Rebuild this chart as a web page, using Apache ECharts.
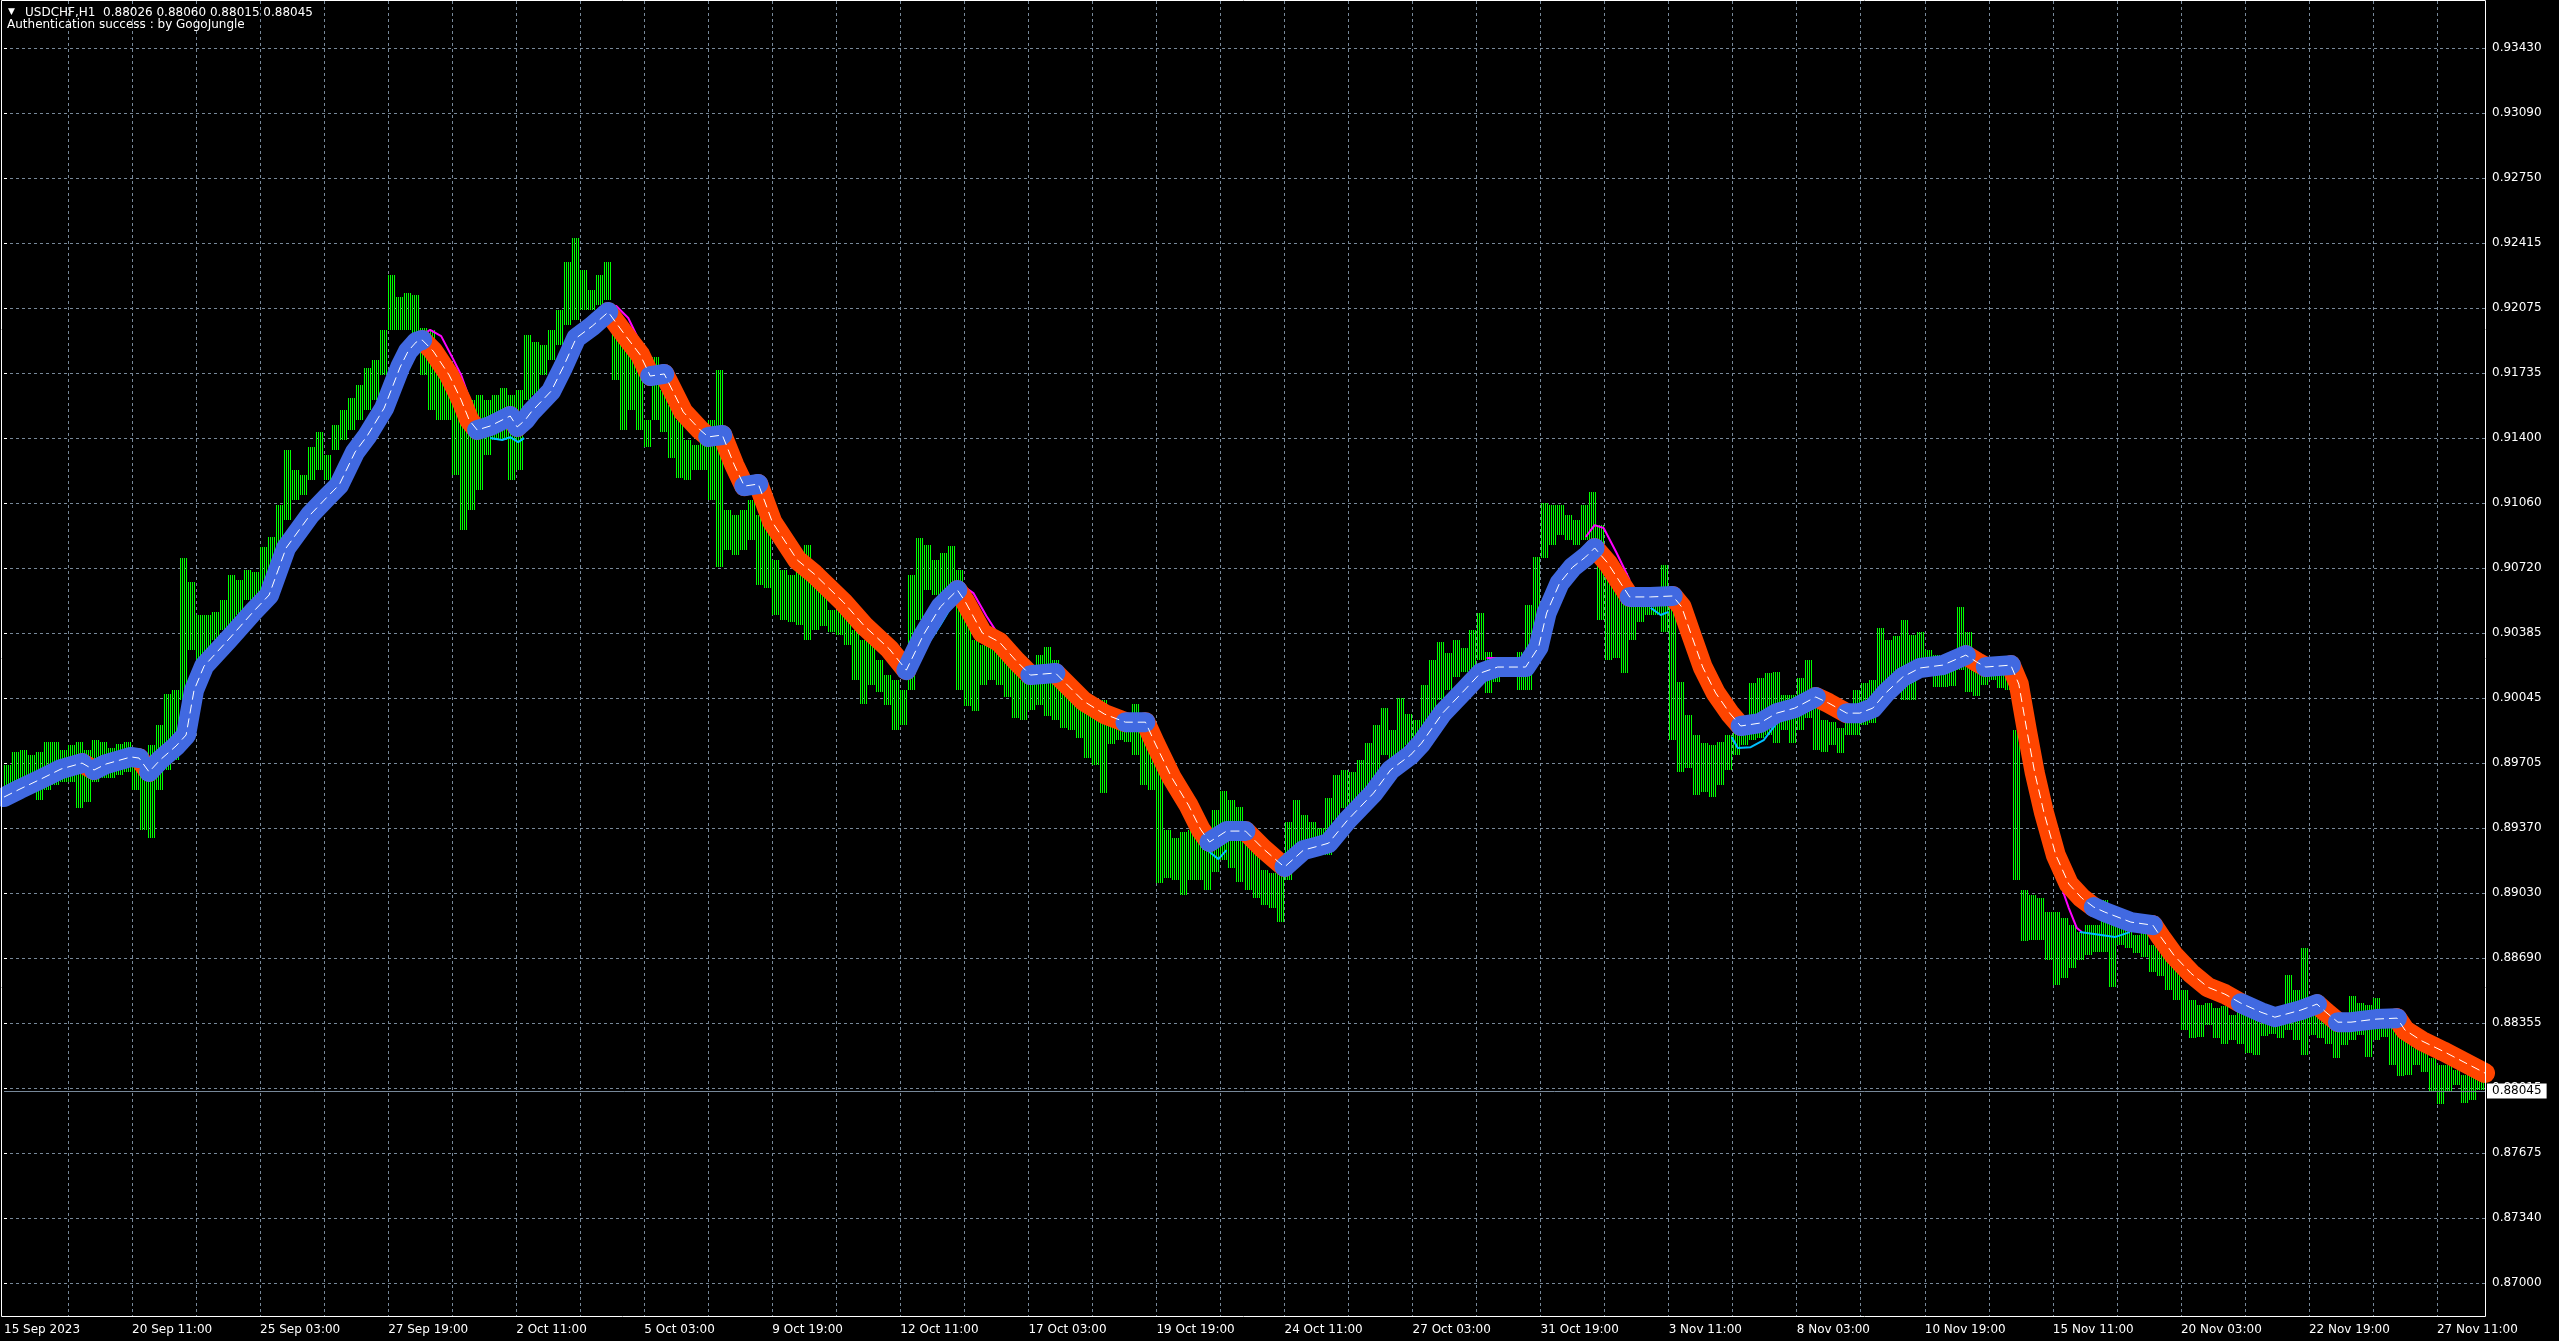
<!DOCTYPE html>
<html><head><meta charset="utf-8">
<script src="https://cdn.jsdelivr.net/npm/echarts@6/dist/echarts.min.js"></script>
<style>html,body{margin:0;padding:0;background:#000;overflow:hidden}#c{width:2559px;height:1341px}</style>
</head><body><div id="c"></div>
<script>
// ---------------- data ----------------
const headerLine1 = 'USDCHF,H1  0.88026 0.88060 0.88015 0.88045';
const headerLine2 = 'Authentication success : by GogoJungle';
const bidPrice = 0.88045;

// price-axis tick labels, bottom to top
const yTickLabels = ['0.87000','0.87340','0.87675','0.88015','0.88355','0.88690','0.89030','0.89370','0.89705','0.90045',
  '0.90385','0.90720','0.91060','0.91400','0.91735','0.92075','0.92415','0.92750','0.93090','0.93430'];
// time-axis labels, one every 64 hourly bars
const xTickLabels = ['15 Sep 2023','20 Sep 11:00','25 Sep 03:00','27 Sep 19:00','2 Oct 11:00','5 Oct 03:00','9 Oct 19:00',
  '12 Oct 11:00','17 Oct 03:00','19 Oct 19:00','24 Oct 11:00','27 Oct 03:00','31 Oct 19:00','3 Nov 11:00','8 Nov 03:00',
  '10 Nov 19:00','15 Nov 11:00','20 Nov 03:00','22 Nov 19:00','27 Nov 11:00'];

// H1 price range, one high/low per block of 4 hourly bars
const priceHigh = [
.89697,.89765,.89775,.89749,.89765,.89817,.89817,.89775,.89801,.89817,
.89775,.89827,.89817,.89785,.89806,.89817,.89765,.89723,.89801,.89905,
.90066,.90087,.90774,.90650,.90478,.90478,.90494,.90556,.90686,.90660,
.90712,.90702,.90832,.90884,.91051,.91337,.91233,.91207,.91353,.91431,
.91311,.91467,.91545,.91607,.91675,.91764,.91805,.91962,.92248,.92134,
.92154,.92144,.91972,.91962,.91779,.91727,.91623,.91545,.91597,.91623,
.91597,.91623,.91660,.91623,.91649,.91936,.91900,.91884,.91962,.92066,
.92316,.92440,.92274,.92170,.92248,.92316,.91962,.91910,.91884,.91832,
.91493,.91821,.91649,.91571,.91493,.91389,.91363,.91441,.91493,.91753,
.91024,.90998,.91024,.91077,.90998,.90946,.90764,.90712,.90686,.90785,
.90842,.90686,.90608,.90504,.90504,.90494,.90400,.90348,.90337,.90243,
.90165,.90139,.90087,.90686,.90878,.90842,.90764,.90800,.90837,.90712,
.90478,.90348,.90322,.90348,.90295,.90295,.90191,.90139,.90191,.90269,
.90311,.90243,.90113,.90087,.90061,.90009,.89983,.90035,.89957,.89957,
.89957,.90014,.89941,.89879,.89697,.89358,.89316,.89348,.89358,.89384,
.89332,.89462,.89561,.89514,.89478,.89306,.89280,.89150,.89134,.89150,
.89400,.89514,.89436,.89400,.89368,.89524,.89645,.89671,.89661,.89723,
.89811,.89905,.89993,.89879,.90045,.89962,.89931,.90113,.90243,.90337,
.90280,.90348,.90306,.90400,.90488,.90285,.90259,.90254,.90254,.90285,
.90530,.90780,.91061,.91051,.91051,.90998,.90972,.91051,.91119,.90946,
.90676,.90608,.90696,.90608,.90608,.90592,.90592,.90738,.90530,.90129,
.89957,.89853,.89811,.89801,.89817,.89853,.89879,.89921,.90124,.90150,
.90176,.90181,.90061,.90061,.90150,.90243,.90087,.89931,.89921,.89889,
.89931,.90087,.90124,.90139,.90410,.90348,.90369,.90452,.90374,.90390,
.90295,.90269,.90233,.90233,.90520,.90390,.90254,.90243,.90254,.90243,
.90233,.89879,.89046,.89020,.89004,.88931,.88931,.88900,.88863,.88827,
.88863,.88863,.88994,.88916,.88916,.88863,.88811,.88863,.88759,.88759,
.88691,.88650,.88525,.88473,.88447,.88457,.88431,.88442,.88395,.88421,
.88421,.88379,.88359,.88343,.88431,.88603,.88525,.88744,.88473,.88395,
.88379,.88359,.88343,.88494,.88457,.88447,.88483,.88421,.88343,.88291,
.88265,.88223,.88213,.88171,.88135,.88135,.88108,.88082,.88082,.88082];
const priceLow = [
.89514,.89540,.89566,.89556,.89514,.89566,.89593,.89608,.89608,.89472,
.89504,.89608,.89629,.89629,.89645,.89661,.89566,.89358,.89316,.89566,
.89671,.89723,.90035,.90295,.90243,.90269,.90348,.90400,.90426,.90478,
.90556,.90556,.90608,.90686,.90764,.90972,.91077,.91103,.91181,.91233,
.91181,.91337,.91389,.91441,.91493,.91545,.91597,.91727,.91962,.91962,
.91962,.91936,.91727,.91545,.91493,.91493,.91207,.90920,.91024,.91129,
.91311,.91389,.91389,.91181,.91233,.91597,.91623,.91727,.91805,.91884,
.91988,.92014,.92066,.92066,.92092,.92118,.91701,.91441,.91545,.91441,
.91353,.91493,.91431,.91295,.91191,.91181,.91233,.91233,.91077,.90728,
.90816,.90790,.90816,.90868,.90634,.90618,.90478,.90452,.90442,.90426,
.90348,.90400,.90421,.90390,.90374,.90322,.90139,.90014,.90113,.90077,
.90009,.89879,.89905,.90087,.90452,.90608,.90582,.90556,.90556,.90087,
.90004,.89978,.90113,.90139,.90113,.90051,.89941,.89931,.89983,.90009,
.89952,.89931,.89889,.89879,.89837,.89733,.89697,.89550,.89806,.89827,
.89817,.89749,.89593,.89566,.89082,.89108,.89098,.89020,.89098,.89098,
.89046,.89140,.89202,.89160,.89088,.89046,.89004,.88968,.88952,.88879,
.89098,.89228,.89280,.89238,.89244,.89228,.89410,.89472,.89462,.89472,
.89566,.89619,.89749,.89723,.89749,.89801,.89817,.89843,.89931,.90035,
.90087,.90155,.90181,.90191,.90243,.90071,.90129,.90160,.90160,.90087,
.90087,.90348,.90774,.90842,.90894,.90868,.90842,.90868,.90842,.90452,
.90243,.90254,.90176,.90348,.90442,.90478,.90478,.90390,.89827,.89661,
.89681,.89540,.89556,.89530,.89593,.89671,.89749,.89801,.89827,.89837,
.89853,.89811,.89879,.89811,.89879,.89941,.89775,.89765,.89801,.89759,
.89853,.89853,.89905,.89915,.90035,.90139,.90181,.90035,.90035,.90181,
.90202,.90103,.90103,.90108,.90191,.90077,.90056,.90113,.90139,.90097,
.90087,.89098,.88780,.88785,.88785,.88681,.88551,.88587,.88639,.88681,
.88707,.88723,.88723,.88540,.88759,.88743,.88717,.88697,.88618,.88598,
.88525,.88473,.88317,.88275,.88280,.88343,.88275,.88244,.88265,.88244,
.88197,.88187,.88286,.88296,.88275,.88317,.88265,.88187,.88291,.88275,
.88244,.88171,.88239,.88265,.88291,.88176,.88265,.88280,.88135,.88077,
.88082,.88135,.88098,.87994,.87931,.87994,.88030,.87936,.87952,.88004];

// thick moving average: hourly-bar index, value, trend of the segment ending here (1 = up/blue, 0 = down/red)
const maBar = [0,8,18.5,28.5,39,45,51,63.5,67.5,72.5,78,86,91,95,100,112,124.5,132.5,137,141,
153,161.5,167.5,175.5,181.5,190,198,202,206,209,214.5,222.5,228.5,232.5,236.5,243,253,256.5,260.5,263.5,
273.5,279.5,286,294,302,310,318,323,330,339.5,348,352,359,365,370,377,384,396.5,405,419.5,
430,442.5,451,459.5,468,476.5,480.5,489,497.5,506,513,525.5,539.5,550,560.5,570.5,575.5,583.5,592,598,
602.5,611,620.5,629,637,640,649.5,657,662,671.5,684.5,693,703,708.5,719,730,738,746.5,760.5,767,
771,777.5,784,790.5,795,801.5,808,812.5,823,834,838.5,843,849,855.5,862.5,868,877.5,886,895,905.5,
912,921,927.5,934,940.5,949,957.5,969,980.5,986,990.5,1003,1007,1011,1015,1019.5,1025.5,1032,1038.5,1044.5,
1050,1063,1074,1078,1084.5,1093,1101.5,1110,1118,1128,1135,1148,1156,1160.5,1166.5,1173,1185.5,1196,1200,1208.5,
1219,1229.5,1240];
const maPrice = [.89530,.89572,.89624,.89676,.89707,.89671,.89702,.89739,.89733,.89661,.89723,.89796,.89853,.90087,.90212,.90348,.90494,.90582,.90712,.90827,
.90999,.91092,.91155,.91327,.91410,.91555,.91769,.91852,.91899,.91910,.91852,.91727,.91597,.91493,.91441,.91462,.91514,.91457,.91493,.91535,
.91644,.91769,.91920,.91982,.92055,.91941,.91832,.91722,.91733,.91535,.91441,.91405,.91415,.91259,.91149,.91160,.90962,.90764,.90691,.90545,
.90421,.90301,.90191,.90374,.90520,.90608,.90546,.90384,.90337,.90238,.90165,.90176,.90030,.89962,.89920,.89920,.89806,.89634,.89488,.89363,
.89296,.89353,.89353,.89264,.89192,.89166,.89254,.89275,.89290,.89410,.89551,.89671,.89749,.89811,.89967,.90087,.90176,.90207,.90207,.90311,
.90488,.90644,.90727,.90780,.90827,.90749,.90644,.90572,.90572,.90577,.90520,.90384,.90207,.90072,.89967,.89900,.89915,.89967,.89993,.90051,
.90019,.89967,.89967,.89993,.90072,.90155,.90202,.90217,.90269,.90233,.90207,.90217,.90118,.89879,.89655,.89452,.89228,.89077,.89004,.88957,
.88931,.88879,.88863,.88801,.88707,.88613,.88540,.88504,.88457,.88410,.88384,.88421,.88452,.88410,.88358,.88358,.88374,.88379,.88317,.88260,
.88207,.88150,.88093];
const maTrend = [1,1,1,1,1,0,1,1,1,0,1,1,1,1,1,1,1,1,1,1,
1,1,1,1,1,1,1,1,1,1,0,0,0,0,0,1,1,0,1,1,
1,1,1,1,1,0,0,0,1,0,0,0,1,0,0,1,0,0,0,0,
0,0,0,1,1,1,0,0,0,0,0,1,0,0,0,1,0,0,0,0,
0,1,1,0,0,0,1,1,1,1,1,1,1,1,1,1,1,1,1,1,
1,1,1,1,1,0,0,0,1,1,0,0,0,0,0,0,1,1,1,1,
0,0,1,1,1,1,1,1,1,0,0,1,0,0,0,0,0,0,0,0,
1,1,1,0,0,0,0,0,0,1,1,1,1,0,0,1,1,1,0,0,
0,0,0];

// thin companion lines, visible only near turning points: [hourly-bar index, value]
const magentaSegments = [
  [[208,.91930],[213,.91962],[218.5,.91930],[224.5,.91810],[228.5,.91727],[232.5,.91608]],
  [[301,.92092],[306,.92087],[312,.92024],[318.5,.91884]],
  [[479.5,.90629],[484.5,.90592],[491,.90473],[495.5,.90400]],
  [[741,.90254],[758,.90254]],
  [[790.5,.90884],[795,.90946],[799.5,.90931],[806,.90801],[812.5,.90660]],
  [[1029,.89041],[1032,.88952],[1036,.88848],[1038.5,.88827]]];
const cyanSegments = [
  [[243,.91399],[249,.91389],[253,.91404],[257,.91378],[260,.91399]],
  [[461.5,.90322],[468,.90426],[475.5,.90556]],
  [[602.5,.89244],[607,.89207],[611,.89254]],
  [[823,.90515],[828,.90478],[832,.90494]],
  [[863.5,.89843],[866.5,.89785],[873,.89790],[879.5,.89827],[886,.89915]],
  [[1037.5,.88827],[1049,.88811],[1055,.88801],[1062.5,.88827]]];

// ---------------- layout ----------------
const W = 2559, H = 1341;
const plotLeft = 4, plotRight = 2485, plotTop = 1, plotBottom = 1316;
const firstTickY = 48, lastTickY = 1283;       // pixel rows of top / bottom price labels
const font = 'DejaVu Sans';
const gridColor = '#778899';
const barsPerBlock = 4, nBlocks = 311;          // category slots (last one is the right edge)

const topLabel = parseFloat(yTickLabels[yTickLabels.length - 1]);
const botLabel = parseFloat(yTickLabels[0]);
const slope = (topLabel - botLabel) / (lastTickY - firstTickY);
const priceMax = topLabel + (firstTickY - plotTop) * slope;
const priceMin = botLabel - (plotBottom - lastTickY) * slope;

// hourly bar times (weekends skipped), used as category names of the 4-bar blocks
const MON = ['Jan','Feb','Mar','Apr','May','Jun','Jul','Aug','Sep','Oct','Nov','Dec'];
const categories = [];
(function () {
  let t = Date.UTC(2023, 8, 15, 19);
  for (let i = 0; i < nBlocks * barsPerBlock; i++) {
    if (i % barsPerBlock === 0) {
      const d = new Date(t);
      categories.push(d.getUTCDate() + ' ' + MON[d.getUTCMonth()] + ' ' + String(d.getUTCHours()).padStart(2, '0') + ':00');
    }
    t += 3600e3;
    if (new Date(t).getUTCDay() === 6) t += 2 * 86400e3;
  }
})();

const barData = priceLow.map((lo, i) => [i, lo, priceHigh[i]]);

function segData(segs) {
  const out = [];
  segs.forEach((s, i) => { if (i) out.push([s[0][0], '-']); s.forEach(p => out.push(p)); });
  return out;
}
function trendData(flag) {
  const out = []; let open = false;
  for (let i = 1; i < maBar.length; i++) {
    if (maTrend[i] === flag) {
      if (!open) { if (out.length) out.push([maBar[i - 1], '-']); out.push([maBar[i - 1], maPrice[i - 1]]); open = true; }
      out.push([maBar[i], maPrice[i]]);
    } else open = false;
  }
  return out;
}
const maAll = maBar.map((b, i) => [b, maPrice[i]]);

function renderBars(params, api) {
  const g = api.value(0), lo = api.value(1), hi = api.value(2);
  const top = api.coord([g, hi]), bot = api.coord([g, lo]);
  const nxt = api.coord([g + 1, hi]);
  const step = (nxt[0] - top[0]) / barsPerBlock;
  const y0 = Math.round(top[1]), h = Math.max(1, Math.round(bot[1]) - y0);
  const children = [];
  for (let k = 0; k < barsPerBlock; k++) {
    children.push({ type: 'rect', shape: { x: Math.round(top[0] + k * step), y: y0, width: 1, height: h },
      style: { fill: '#00ff00' } });
  }
  return { type: 'group', children };
}

const chart = echarts.init(document.getElementById('c'), null, { renderer: 'canvas', width: W, height: H });
const dashed = { color: gridColor, type: [3, 3], width: 1 };
const maWidth = 20;

chart.setOption({
  backgroundColor: '#000000',
  animation: false,
  grid: [
    { left: plotLeft, right: W - plotRight, top: plotTop, bottom: H - plotBottom, outerBoundsMode: 'none', containLabel: false },
    { left: plotLeft, right: W - plotRight, top: firstTickY, bottom: H - lastTickY, outerBoundsMode: 'none', containLabel: false }
  ],
  xAxis: [
    { type: 'category', gridIndex: 0, data: categories, boundaryGap: false,
      axisLine: { show: false }, axisTick: { show: false },
      axisLabel: { show: true, interval: (i) => i % 16 === 0, formatter: (v, i) => xTickLabels[i / 16] || '',
        align: 'left', margin: 8, color: '#ffffff', fontFamily: font, fontSize: 12, hideOverlap: false },
      splitLine: { show: true, interval: (i) => i > 0 && i % 8 === 0, lineStyle: dashed } },
    { type: 'value', gridIndex: 0, min: 0, max: (nBlocks - 1) * barsPerBlock, show: false },
    { type: 'value', gridIndex: 1, min: 0, max: 1, show: false }
  ],
  yAxis: [
    { type: 'value', gridIndex: 0, min: priceMin, max: priceMax, show: false, scale: true },
    { type: 'value', gridIndex: 1, position: 'right', min: 0, max: yTickLabels.length - 1, interval: 1,
      axisLine: { show: false },
      axisTick: { show: true, length: 3, lineStyle: { color: '#ffffff' } },
      axisLabel: { show: true, margin: 7, color: '#ffffff', fontFamily: font, fontSize: 12,
        formatter: (v) => yTickLabels[Math.round(v)], showMinLabel: true, showMaxLabel: true },
      splitLine: { show: true, lineStyle: dashed } }
  ],
  graphic: [
    { type: 'rect', silent: true, z: 100, shape: { x: 1.5, y: 0.5, width: plotRight - 1, height: plotBottom },
      style: { fill: 'none', stroke: '#ffffff', lineWidth: 1 } },
    { type: 'text', silent: true, z: 100, x: 8, y: 12, style: { text: '▼', fill: '#ffffff', font: '9px "' + font + '"', verticalAlign: 'middle' } },
    { type: 'text', silent: true, z: 100, x: 25, y: 12.5, style: { text: headerLine1, fill: '#ffffff', font: '12px "' + font + '"', verticalAlign: 'middle' } },
    { type: 'text', silent: true, z: 100, x: 7, y: 24.5, style: { text: headerLine2, fill: '#ffffff', font: '12px "' + font + '"', verticalAlign: 'middle' } }
  ],
  series: [
    { name: 'USDCHF H1', type: 'custom', xAxisIndex: 0, yAxisIndex: 0, renderItem: renderBars,
      data: barData, encode: { x: 0, y: [1, 2] }, clip: true, silent: true, z: 2 },
    { name: 'upper', type: 'line', xAxisIndex: 1, yAxisIndex: 0, data: segData(magentaSegments),
      showSymbol: false, symbol: 'none', silent: true, clip: false, z: 3,
      lineStyle: { color: '#ff00ff', width: 2 },
      markLine: { silent: true, symbol: ['none', 'none'], animation: false,
        lineStyle: { color: gridColor, type: 'solid', width: 1 },
        label: { show: true, position: 'end', formatter: bidPrice.toFixed(5), color: '#000000', backgroundColor: '#ffffff',
          padding: [2, 5, 1, 5], fontFamily: font, fontSize: 12, distance: 2 },
        data: [{ yAxis: bidPrice }] } },
    { name: 'lower', type: 'line', xAxisIndex: 1, yAxisIndex: 0, data: segData(cyanSegments),
      showSymbol: false, symbol: 'none', silent: true, clip: true, z: 3,
      lineStyle: { color: '#00bfff', width: 2 } },
    { name: 'MA down', type: 'line', xAxisIndex: 1, yAxisIndex: 0, data: trendData(0),
      showSymbol: false, symbol: 'none', silent: true, clip: true, z: 4,
      lineStyle: { color: '#ff4500', width: maWidth, cap: 'round', join: 'round' } },
    { name: 'MA up', type: 'line', xAxisIndex: 1, yAxisIndex: 0, data: trendData(1),
      showSymbol: false, symbol: 'none', silent: true, clip: true, z: 5,
      lineStyle: { color: '#4169e1', width: maWidth, cap: 'round', join: 'round' } },
    { name: 'MA center', type: 'line', xAxisIndex: 1, yAxisIndex: 0, data: maAll,
      showSymbol: false, symbol: 'none', silent: true, clip: true, z: 6,
      lineStyle: { color: '#ffffff', width: 1, type: [9, 5] } }
  ]
});
</script></body></html>
